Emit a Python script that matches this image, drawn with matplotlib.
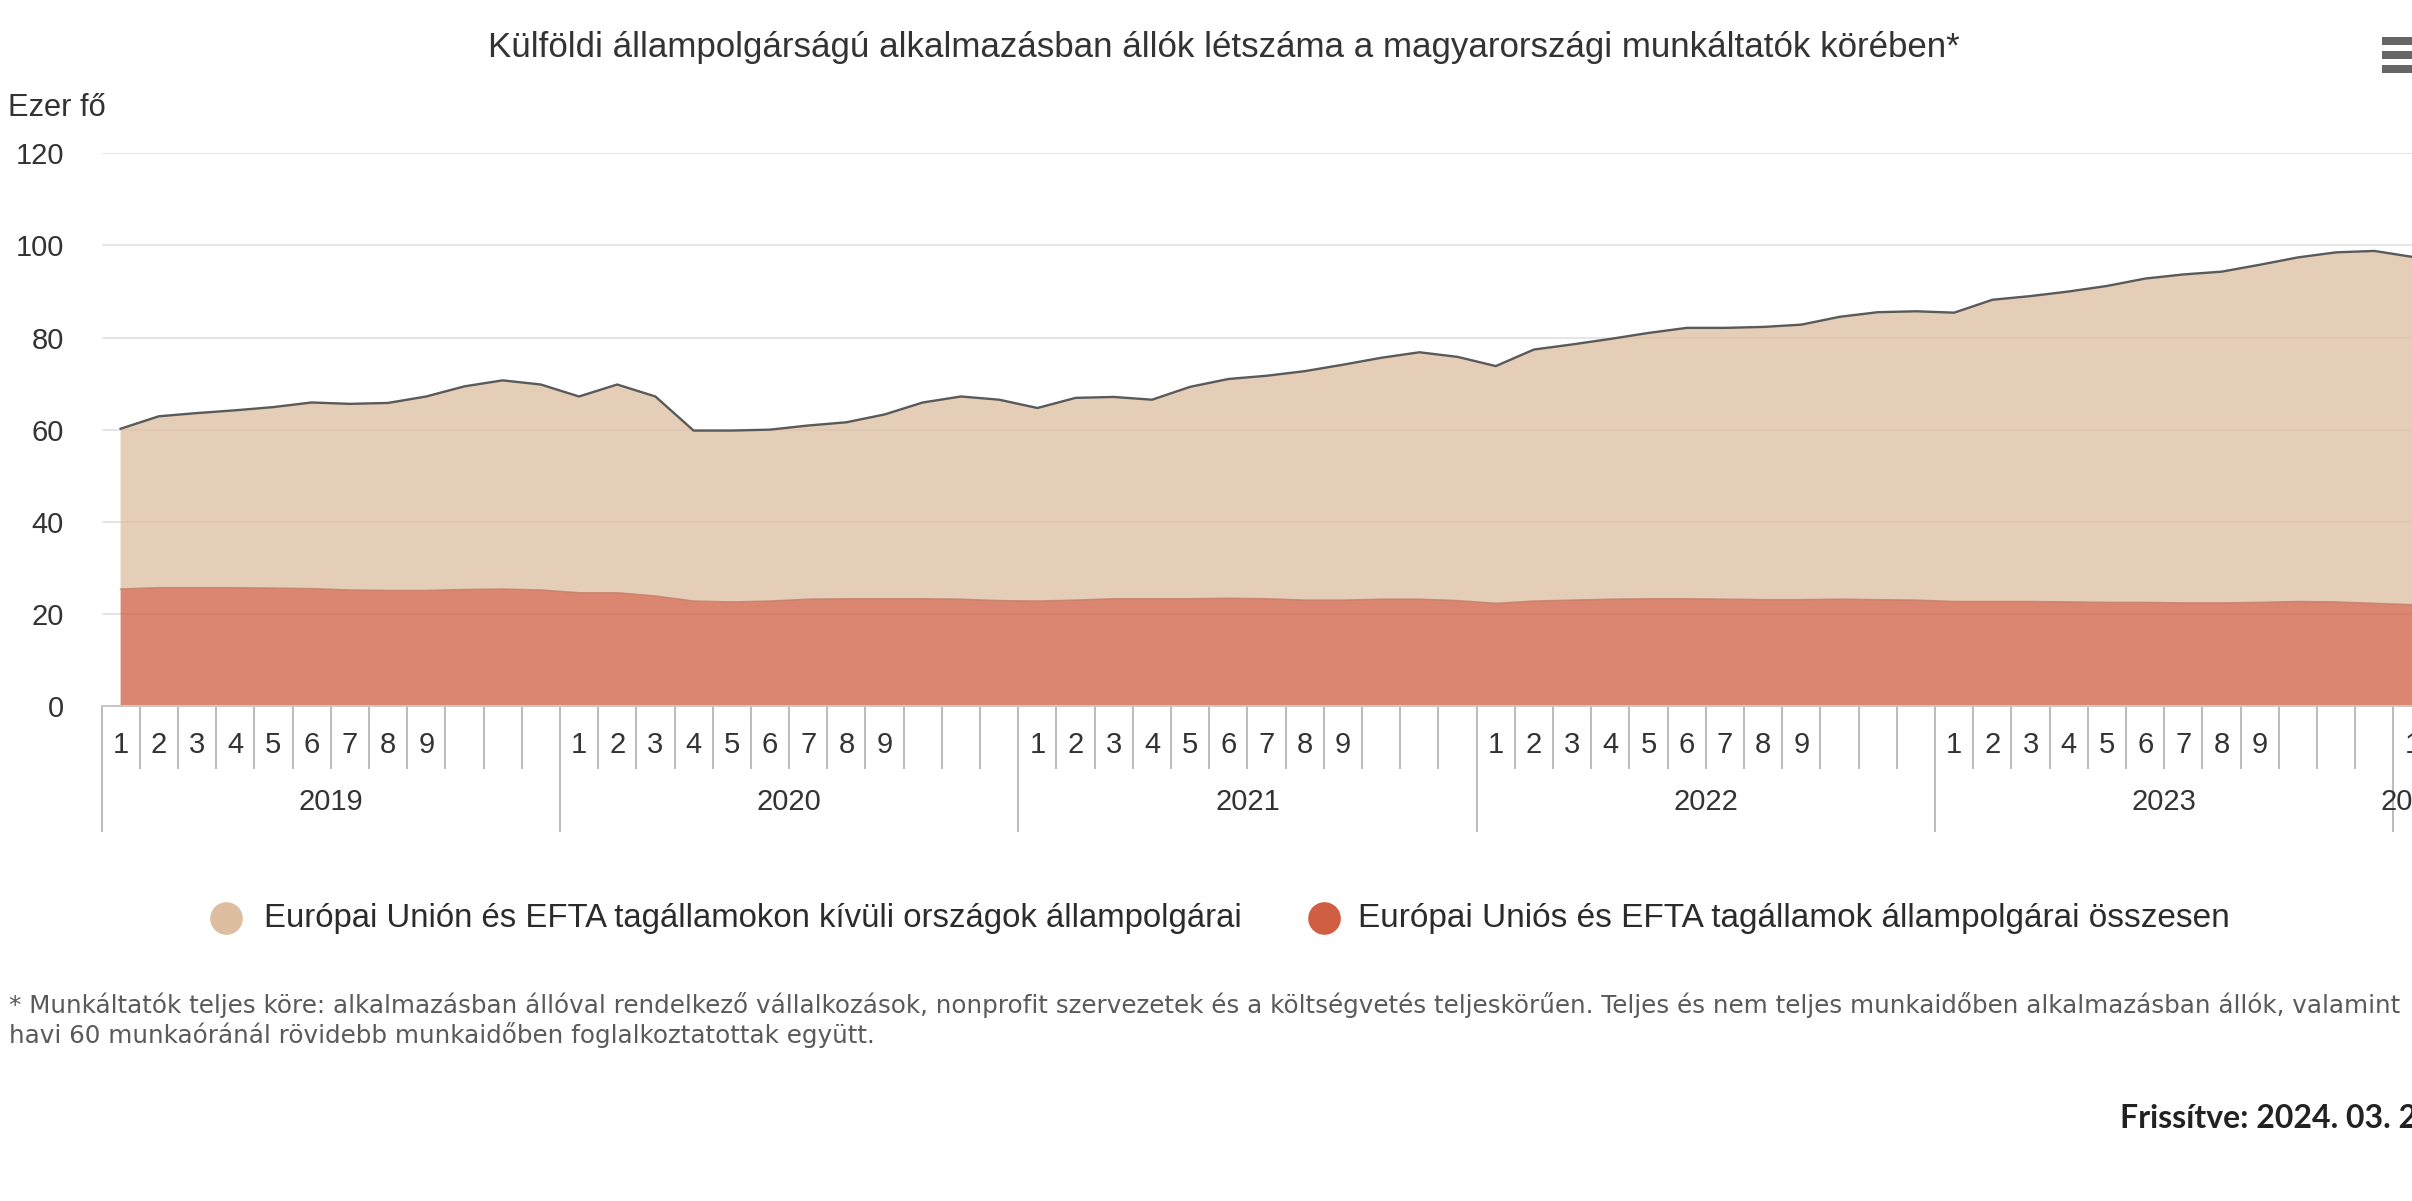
import matplotlib
matplotlib.use("Agg")
import matplotlib.pyplot as plt
from matplotlib.lines import Line2D
from matplotlib.patches import Rectangle

# ---- data -------------------------------------------------------------
years = [2019, 2020, 2021, 2022, 2023, 2024]
months_in_year = [12, 12, 12, 12, 12, 1]
month_labels = [str(m) for m in range(1, 13)]

# thousand persons, monthly, 2019-01 .. 2024-01
eu_efta = [
    25.4, 25.7, 25.7, 25.7, 25.6, 25.5, 25.2, 25.1, 25.1, 25.3, 25.4, 25.2,
    24.6, 24.6, 23.9, 22.8, 22.6, 22.8, 23.2, 23.3, 23.3, 23.3, 23.2, 22.9,
    22.8, 23.0, 23.3, 23.3, 23.3, 23.4, 23.3, 23.0, 23.0, 23.2, 23.2, 22.9,
    22.3, 22.8, 23.0, 23.2, 23.3, 23.3, 23.2, 23.1, 23.1, 23.2, 23.1, 23.0,
    22.7, 22.7, 22.7, 22.6, 22.5, 22.5, 22.4, 22.4, 22.5, 22.7, 22.6, 22.3,
    22.0,
]
non_eu_efta = [
    34.8, 37.2, 37.9, 38.5, 39.3, 40.4, 40.4, 40.7, 42.1, 44.1, 45.3, 44.6,
    42.6, 45.2, 43.3, 37.0, 37.2, 37.2, 37.7, 38.3, 40.0, 42.6, 44.0, 43.6,
    41.9, 43.9, 43.8, 43.2, 46.0, 47.6, 48.4, 49.7, 51.1, 52.4, 53.6, 52.9,
    51.5, 54.6, 55.5, 56.5, 57.7, 58.8, 58.9, 59.2, 59.7, 61.3, 62.4, 62.7,
    62.7, 65.5, 66.3, 67.4, 68.7, 70.3, 71.3, 71.9, 73.3, 74.7, 75.9, 76.5,
    75.5,
]
series_names = [
    "Európai Unión és EFTA tagállamokon kívüli országok állampolgárai",
    "Európai Uniós és EFTA tagállamok állampolgárai összesen",
]
y_ticks = [0, 20, 40, 60, 80, 100, 120]

title = ("Külföldi állampolgárságú alkalmazásban állók létszáma "
         "a magyarországi munkáltatók körében*")
y_unit = "Ezer fő"
footnote = [
    "* Munkáltatók teljes köre: alkalmazásban állóval rendelkező vállalkozások, "
    "nonprofit szervezetek és a költségvetés teljeskörűen. Teljes és nem teljes "
    "munkaidőben alkalmazásban állók, valamint",
    "havi 60 munkaóránál rövidebb munkaidőben foglalkoztatottak együtt.",
]
updated = "Frissítve: 2024. 03. 28."

# ---- styling ----------------------------------------------------------
c_non_eu = "#DDBEA0"
c_eu = "#CF5E42"
W, H = 2412, 1201
SANS = ["Liberation Sans", "DejaVu Sans"]
LABEL_FS = 21

fig = plt.figure(figsize=(W / 100, H / 100), dpi=100)
fig.patch.set_facecolor("white")


def fx(px):
    return px / W


def fy(py):
    return 1 - py / H


def fit_width(txt, width_px):
    r = fig.canvas.get_renderer()
    w = txt.get_window_extent(r).width
    txt.set_fontsize(txt.get_fontsize() * width_px / w)


# plot area (continues a little past the right edge of the canvas)
x0, x_end, y_top, y_zero = 101.5, 2431.7, 153.3, 706.0
ax = fig.add_axes([fx(x0), fy(y_zero), fx(x_end - x0), (y_zero - y_top) / H])

n = len(eu_efta)
x = list(range(n))
total = [a + b for a, b in zip(eu_efta, non_eu_efta)]

ax.stackplot(x, eu_efta, non_eu_efta, colors=[c_eu, c_non_eu], alpha=0.75,
             linewidth=0, zorder=2)
ax.plot(x, eu_efta, color="#C27A63", lw=1.0, alpha=0.8, zorder=3)
ax.plot(x, total, color="#5A5A5A", lw=1.7, zorder=4)

ax.set_xlim(-0.5, n - 0.5)
ax.set_ylim(0, 120)

# y axis
ax.set_yticks(y_ticks)
ax.set_yticklabels([str(v) for v in y_ticks], fontsize=LABEL_FS,
                   color="#333333", family=SANS)
ax.tick_params(axis="y", length=0, pad=27)
ax.yaxis.grid(True, color="#E3E3E3", lw=1.3, zorder=0)
ax.set_axisbelow(True)

for s in ["top", "right", "left"]:
    ax.spines[s].set_visible(False)
ax.spines["bottom"].set_color("#C8C8C8")
ax.spines["bottom"].set_linewidth(1.5)
ax.spines["bottom"].set_zorder(5)

# x axis: category boundaries as ticks, long ticks between years
bounds, year_bounds, starts = [], [], []
pos = 0
for cnt in months_in_year:
    starts.append(pos)
    year_bounds.append(pos - 0.5)
    bounds += [pos + k - 0.5 for k in range(cnt + 1)]
    pos += cnt
year_bounds.append(pos - 0.5)
ax.set_xticks(year_bounds)
ax.set_xticks(sorted(set(bounds) - set(year_bounds)), minor=True)
ax.set_xticklabels([])
ax.tick_params(axis="x", which="major", length=90.7, width=1.1, color="#A8A8A8",
               direction="out")
ax.tick_params(axis="x", which="minor", length=45.4, width=1.1, color="#A8A8A8",
               direction="out")

ah = y_zero - y_top
tr = ax.get_xaxis_transform()
for yr, st, cnt in zip(years, starts, months_in_year):
    for k in range(cnt):
        lab = month_labels[k]
        # two-digit month numbers do not fit between the narrow ticks
        if len(lab) == 1:
            ax.text(st + k, -(745 - y_zero) / ah, lab, transform=tr,
                    ha="center", va="center", fontsize=LABEL_FS,
                    color="#333333", family=SANS, clip_on=False)
    ax.text(st + (cnt - 1) / 2, -(802 - y_zero) / ah, str(yr), transform=tr,
            ha="center", va="center", fontsize=LABEL_FS, color="#333333",
            family=SANS, clip_on=False)

# titles
t = fig.text(fx(1223.5), fy(48), title, ha="center", va="center",
             fontsize=24, color="#333333", family=SANS)
fit_width(t, 1467)
u = fig.text(fx(8), fy(108), y_unit, ha="left", va="center", fontsize=LABEL_FS,
             color="#333333", family=SANS)
fit_width(u, 98)

# legend
leg = [(226, 264, 975, series_names[0], c_non_eu),
       (1324, 1358, 870, series_names[1], c_eu)]
for mx, tx, tw, name, col in leg:
    fig.add_artist(Line2D([fx(mx)], [fy(918)], marker="o", markersize=23.5,
                          color=col, markeredgewidth=0,
                          transform=fig.transFigure))
    lt = fig.text(fx(tx), fy(919), name, ha="left", va="center", fontsize=22,
                  color="#2B2B2B", family=SANS)
    fit_width(lt, tw)

# footnote
f1 = fig.text(fx(9), fy(1005), footnote[0], ha="left", va="center",
              fontsize=15, color="#5A5A5A", family=["DejaVu Sans"])
fit_width(f1, 2393)
fig.text(fx(9), fy(1035), footnote[1], ha="left", va="center",
         fontsize=f1.get_fontsize(), color="#5A5A5A", family=["DejaVu Sans"])

fig.text(fx(2120), fy(1119), updated, ha="left", va="center", fontsize=23,
         color="#222222", family=["Lato", "DejaVu Sans"], fontweight="bold")

# context-menu icon
for yy in (41, 55, 69):
    fig.add_artist(Rectangle((fx(2382), fy(yy + 3.5)), fx(40), 7 / H,
                             transform=fig.transFigure, color="#666666",
                             lw=0))

fig.savefig("out.png", dpi=100)
